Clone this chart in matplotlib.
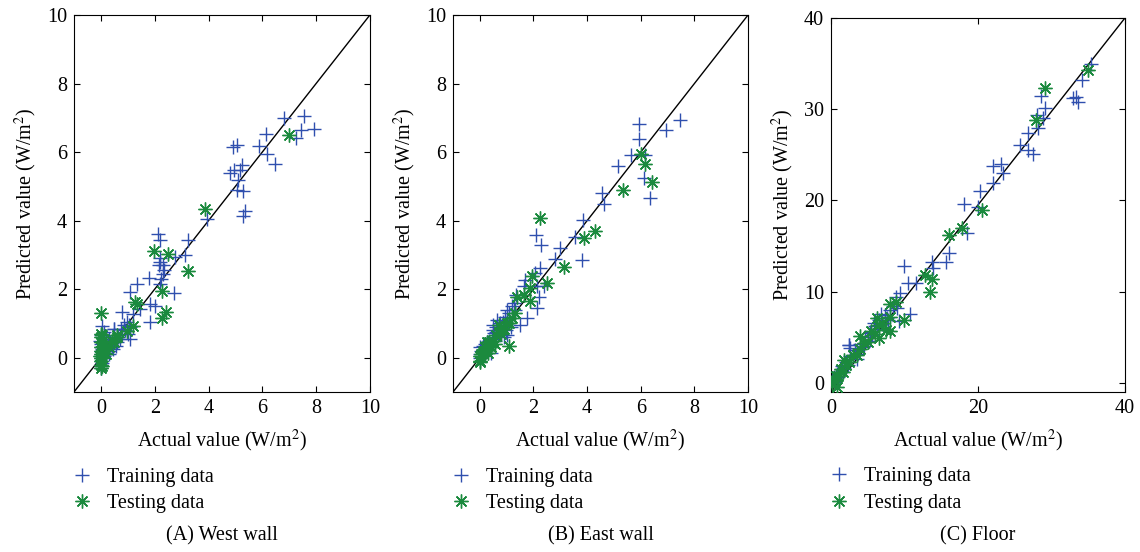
import numpy as np
import matplotlib
matplotlib.use('Agg')
import matplotlib.pyplot as plt

plt.rcParams['font.family'] = ['Liberation Serif', 'DejaVu Serif']
plt.rcParams['mathtext.fontset'] = 'stix'

# (A) West wall
west_train_x = [6.81, 7.55, 7.43, 7.92, 7.25, 6.14, 5.87, 6.19, 6.47, 4.90, 5.05, 4.80, 4.93, 5.24, 5.17,
                5.11, 5.05, 5.30, 5.36, 5.27, 3.94, 3.23, 2.12, 2.21, 3.11, 2.76, 2.2, 2.2, 2.15, 2.3, 2.35,
                2.3, 2.25, 1.77, 2.2, 2.7, 1.34, 1.09, 0.78, 1.83, 2.02, 1.83, 1.46, 1.21, 0.97, 1.09, 0.47, 0.04,
                0, 0, 0, 0, 0, 0, 0, 0.05, 0.05, 0.1, 0.1, 0.15, 0.2, 0.2, 0.25, 0.3, 0.3, 0.35, 0.4, 0.45,
                0.5, 0.5, 0.55, 0.6, 0.65, 0.7, 0.75, 0.8, 0.85, 0.9, 1.0, 1.05, 1.1, 0, 0.02, -0.02, 0.1, 0.2, 0.3]
west_train_y = [6.99, 7.04, 6.65, 6.67, 6.40, 6.53, 6.19, 5.93, 5.65, 6.16, 6.21, 5.38, 5.47, 5.62, 5.47,
                5.18, 4.89, 4.87, 4.27, 4.12, 4.04, 3.44, 3.62, 3.42, 3.01, 2.95, 2.9, 2.8, 2.7, 2.7, 2.55,
                2.45, 2.3, 2.33, 2.15, 1.88, 2.15, 1.91, 1.32, 1.56, 1.52, 1.03, 1.42, 1.27, 1.03, 0.54, 0.83, 0.93,
                -0.2, -0.1, 0, 0.1, 0.2, 0.3, 0.4, -0.15, 0.25, 0.05, 0.5, 0.35, 0.15, 0.6, 0.4, 0.2, 0.55, 0.45, 0.3, 0.25,
                0.5, 0.85, 0.35, 0.45, 0.6, 0.55, 0.85, 0.7, 0.95, 0.8, 0.7, 0.95, 0.9, 0.65, -0.3, 0.5, 0.75, 0.45, 0.1]
west_test_x = [7.0, 3.87, 1.98, 2.51, 3.22, 2.26, 1.27, 1.33, 2.43, 2.26, 0, 0, 0.97, 1.21, 0.6,
               0, 0, 0, 0, 0, 0, 0, 0, 0, -0.05, 0.05, 0.05, 0.1, 0.1, 0.15, 0.2, 0.3, 0.4, 0.5, 0.6]
west_test_y = [6.5, 4.33, 3.11, 3.03, 2.52, 1.94, 1.63, 1.58, 1.32, 1.17, 1.30, 0.68, 0.78, 0.93, 0.59,
               -0.3, -0.2, -0.1, 0, 0.1, 0.2, 0.3, 0.45, 0.6, 0.05, 0.65, -0.25, 0.15, 0.35, 0.25, 0.1, 0.3, 0.5, 0.45, 0.65]

# (B) East wall
east_train_x = [5.95, 5.95, 7.48, 6.93, 5.64, 6.16, 5.14, 6.12, 6.34, 4.55, 4.61, 3.84, 3.56, 3.80, 3.0,
                2.81, 2.11, 2.28, 2.23, 2.04, 2.13, 2.38, 2.19, 2.13, 1.7, 1.64, 1.33, 1.26, 1.76, 1.51, 1.02,
                0.96, 0.64, 0.52,
                0, 0, 0, 0.05, 0.1, 0.1, 0.15, 0.2, 0.2, 0.25, 0.3, 0.3, 0.35, 0.4, 0.45, 0.5, 0.5, 0.55,
                0.6, 0.6, 0.65, 0.7, 0.75, 0.8, 0.85, 0.9, 0.95, 1.0, 1.0, 1.1, 1.2, 1.3, 0.5, 0.4, 0.9, 1.15]
east_train_y = [6.83, 6.38, 6.93, 6.63, 5.90, 5.90, 5.58, 5.24, 4.66, 4.80, 4.49, 4.01, 3.52, 2.86, 3.2,
                2.88, 3.57, 3.29, 2.61, 2.47, 2.08, 2.08, 1.78, 1.44, 2.27, 2.08, 1.83, 1.59, 1.15, 0.96, 1.39,
                0.81, 1.10, 0.71,
                0, 0.1, 0.3, 0.2, 0.05, 0.35, 0.2, 0.15, 0.4, 0.3, 0.25, 0.45, 0.5, 0.4, 0.55, 0.6, 0.95, 0.5,
                0.75, 0.9, 0.8, 0.7, 1.0, 0.85, 1.05, 0.95, 1.2, 1.1, 0.65, 1.3, 1.5, 1.4, 0.8, 0.15, 0.6, 0.9]
east_test_x = [2.26, 4.28, 3.89, 3.15, 5.35, 6.01, 6.16, 6.41, 2.50, 1.95, 1.88, 1.88, 1.39, 1.64, 1.08,
               0.71, 0.77, 0.27, 0.02,
               0, 0.05, 0.1, 0.15, 0.2, 0.25, 0.3, 0.35, 0.4, 0.5, 0.55, 0.6, 0.7, 0.8, 0.9, 1.0, 1.1,
               1.2, 1.3, 0.02, 0.3]
east_test_y = [4.07, 3.71, 3.49, 2.66, 4.88, 5.93, 5.66, 5.12, 2.17, 2.39, 2.03, 1.64, 1.78, 1.83, 0.34,
               0.96, 0.86, 0.47, -0.12,
               0.05, 0.1, 0.15, 0.2, 0.3, 0.25, 0.35, 0.45, 0.3, 0.5, 0.4, 0.65, 0.75, 0.7, 0.85, 1.0, 1.0,
               1.15, 1.3, -0.1, 0.15]

# (C) Floor
floor_train_x = [35.4, 34.2, 32.9, 33.4, 33.6, 28.6, 29.1, 28.0, 28.9, 26.8, 28.2, 25.7, 26.8, 27.5, 22.0,
                 23.2, 23.4, 22.0, 20.3, 20.0, 18.1, 18.5, 16.0, 15.7, 13.8, 13.9, 10.0, 10.5, 11.6, 9.4,
                 10.8, 9.2, 2.4, 2.6, 5.3,
                 0.2, 0.4, 0.6, 0.8, 1.0, 1.2, 1.5, 1.8, 2.0, 2.3, 2.6, 3.0, 3.3, 3.6, 4.0, 4.3, 4.6, 5.0,
                 5.3, 5.6, 6.0, 6.3, 6.6, 7.0, 7.3, 7.6, 8.0, 8.5, 9.0, 2.4, 3.5, 1.0, 0.5, 4.5, 5.8, 6.8,
                 8.8, 7.8]
floor_train_y = [34.96, 33.2, 31.2, 31.3, 30.8, 31.4, 30.1, 29.4, 29.0, 27.4, 27.9, 26.1, 25.5, 25.1, 23.8,
                 24.0, 23.0, 21.9, 21.0, 19.3, 19.6, 16.4, 14.2, 13.3, 13.3, 12.6, 12.8, 10.9, 10.9, 9.85,
                 7.5, 6.75, 4.2, 3.8, 5.5,
                 0.3, 0.6, 0.5, 1.0, 1.2, 1.1, 1.8, 1.6, 2.3, 2.0, 2.9, 3.0, 3.6, 3.2, 4.3, 3.9, 5.0, 4.6,
                 5.6, 5.2, 6.2, 5.9, 6.9, 6.4, 7.4, 7.1, 8.0, 8.4, 8.2, 4.2, 2.6, 0.6, 0.1, 4.0, 6.6, 7.5,
                 9.4, 6.9]
floor_test_x = [35.0, 29.1, 27.9, 20.6, 17.8, 16.0, 12.8, 13.8, 13.5, 8.1, 8.9, 10.0, 4.0, 6.2, 6.5, 8.1,
                0.1, 0.3, 0.5, 0.7, 1.0, 1.3, 1.6, 2.0, 2.5, 3.0, 3.5, 4.0, 4.5, 5.0, 5.5, 6.0, 6.5, 7.0,
                7.5, 8.0, 0.8, 1.8]
floor_test_y = [34.3, 32.3, 28.8, 19.0, 17.0, 16.2, 11.8, 11.4, 10.0, 8.6, 8.9, 6.9, 5.1, 7.1, 4.9, 5.7,
                0.0, 0.4, 0.2, 0.8, 0.7, 1.5, 1.2, 2.0, 2.3, 3.1, 3.0, 3.7, 4.4, 4.5, 5.7, 5.4, 6.3, 6.6,
                5.8, 7.2, -0.4, 2.5]

panels = [
    ('(A) West wall', west_train_x, west_train_y, west_test_x, west_test_y,
     (-1, 10), (-1, 10), [0, 2, 4, 6, 8, 10], [0, 2, 4, 6, 8, 10]),
    ('(B) East wall', east_train_x, east_train_y, east_test_x, east_test_y,
     (-1, 10), (-1, 10), [0, 2, 4, 6, 8, 10], [0, 2, 4, 6, 8, 10]),
    ('(C) Floor', floor_train_x, floor_train_y, floor_test_x, floor_test_y,
     (0, 40), (-1, 40), [0, 20, 40], [0, 10, 20, 30, 40]),
]
positions = [[0.0649, 0.2899, 0.2596, 0.683],
             [0.3974, 0.2899, 0.2588, 0.683],
             [0.7289, 0.2899, 0.2579, 0.6775]]

blue = '#2f4fae'
green = '#1b8a3e'
asterisk = (8, 2, 0)
fs = 14.5

fig = plt.figure(figsize=(11.4, 5.52), dpi=100)
for pos, (title, trx, try_, tex, tey, xl, yl, xt, yt) in zip(positions, panels):
    ax = fig.add_axes(pos)
    # reference line from the lower-left corner to the upper-right corner
    ax.plot([xl[0], xl[1]], [yl[0], yl[1]], color='black', lw=1.0, zorder=1)
    ax.plot(trx, try_, linestyle='none', marker='+', ms=10, mew=1.0, color=blue, label='Training data', zorder=2)
    ax.plot(tex, tey, linestyle='none', marker=asterisk, ms=10, mew=1.0, color=green, label='Testing data', zorder=3)
    ax.set_xlim(*xl)
    ax.set_ylim(*yl)
    ax.set_xticks(xt)
    ax.set_yticks(yt)
    ax.tick_params(direction='in', top=True, right=True, labelsize=fs, length=4, pad=5)
    ax.set_xlabel('Actual value (W/m$^2$)', fontsize=fs, labelpad=7)
    ax.set_ylabel('Predicted value (W/m$^2$)', fontsize=fs, labelpad=6)
    ax.legend(loc='upper left', bbox_to_anchor=(-0.035, -0.18), frameon=False, fontsize=fs,
              handlelength=1.0, handletextpad=0.75, labelspacing=0.35, borderaxespad=0)
    fig.text(pos[0] + pos[2] / 2, 0.029, title, ha='center', va='center', fontsize=fs)

fig.savefig('out.png', dpi=100)
